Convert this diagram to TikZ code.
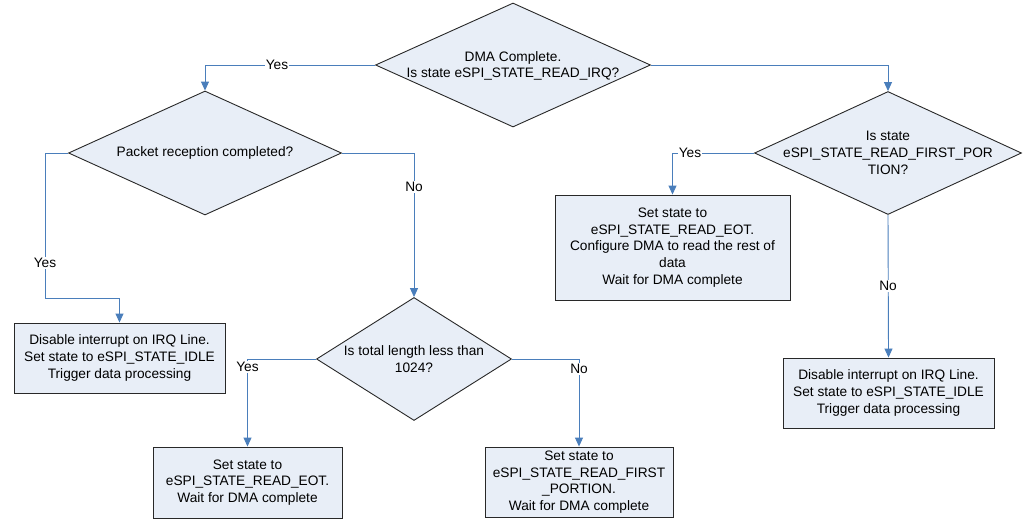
\documentclass[tikz,border=0pt]{standalone}
\usepackage{fontspec}
\setmainfont{Liberation Sans}
\usetikzlibrary{shapes.geometric,arrows.meta,calc}
\definecolor{boxfill}{RGB}{232,238,247}
\definecolor{connblue}{RGB}{74,126,187}
\definecolor{edge}{RGB}{40,40,40}
\tikzset{
  dia/.style={diamond,draw=edge,line width=0.9pt,fill=boxfill,inner sep=0pt},
  dtext/.style={align=center,font=\fontsize{13.7}{16.7}\selectfont,inner sep=0pt},
  procbox/.style={draw=edge,line width=0.9pt,fill=boxfill,align=center,
    font=\fontsize{13.7}{16.7}\selectfont,inner sep=0pt},
  conn/.style={draw=connblue,line width=0.9pt,-{Triangle[length=9pt,width=8pt]}},
  lbl/.style={fill=white,inner sep=1pt,font=\fontsize{13.7}{16.7}\selectfont},
}
\begin{document}
\begin{tikzpicture}[x=1pt,y=-1pt]
\useasboundingbox (0,0) rectangle (1027,522);
% diamonds
\node[dia,minimum width=275pt,minimum height=124pt] (top) at (513,65) {};
\node[dtext] (toptxt) at (513,66) {DMA Complete.\\Is state eSPI\_STATE\_READ\_IRQ?};
\node[dia,minimum width=273pt,minimum height=124pt] (pkt) at (205,153) {};
\node[dtext] (pkttxt) at (205,153) {Packet reception completed?};
\node[dia,minimum width=195pt,minimum height=123pt] (len) at (414,359) {};
\node[dtext] (lentxt) at (414,359) {Is total length less than\\1024?};
\node[dia,minimum width=267pt,minimum height=123pt] (rd) at (888,153) {};
\node[dtext] (rdtxt) at (888,153) {Is state\\eSPI\_STATE\_READ\_FIRST\_POR\\TION?};
% boxes
\node[procbox,minimum width=211pt,minimum height=70pt] (b1) at (119.5,358)
  {Disable interrupt on IRQ Line.\\Set state to eSPI\_STATE\_IDLE\\Trigger data processing};
\node[procbox,minimum width=189pt,minimum height=71pt] (b2) at (247.5,482.5)
  {Set state to\\eSPI\_STATE\_READ\_EOT.\\Wait for DMA complete};
\node[procbox,minimum width=188pt,minimum height=70pt] (b3) at (579,482)
  {Set state to\\eSPI\_STATE\_READ\_FIRST\\\_PORTION.\\Wait for DMA complete};
\node[procbox,minimum width=235pt,minimum height=105pt] (r1) at (672.5,247.5)
  {Set state to\\eSPI\_STATE\_READ\_EOT.\\Configure DMA to read the rest of\\data\\Wait for DMA complete};
\node[procbox,minimum width=211pt,minimum height=70pt] (r2) at (888.5,393)
  {Disable interrupt on IRQ Line.\\Set state to eSPI\_STATE\_IDLE\\Trigger data processing};
% helper coordinates
\coordinate (c1) at (45,298);
% connectors
\draw[conn] (top.west) -| (pkt.north);
\node[lbl] (y1) at (277,65) {Yes};
\draw[conn] (pkt.west) -| (c1) -| (b1.north);
\node[lbl] (y2) at (45,263) {Yes};
\draw[conn] (pkt.east) -| (len.north);
\node[lbl] (n1) at (414,187) {No};
\draw[conn] (len.west) -| (b2.north);
\node[lbl] (y3) at (247.5,367) {Yes};
\draw[conn] (len.east) -| (b3.north);
\node[lbl] (n2) at (579,369) {No};
\draw[conn] (top.east) -| (rd.north);
\draw[conn] (rd.west) -| (r1.north);
\node[lbl] (y4) at (690,153) {Yes};
\draw[conn] (rd.south) -- (r2.north);
\node[lbl] (n3) at (888,286) {No};
\end{tikzpicture}
\end{document}
